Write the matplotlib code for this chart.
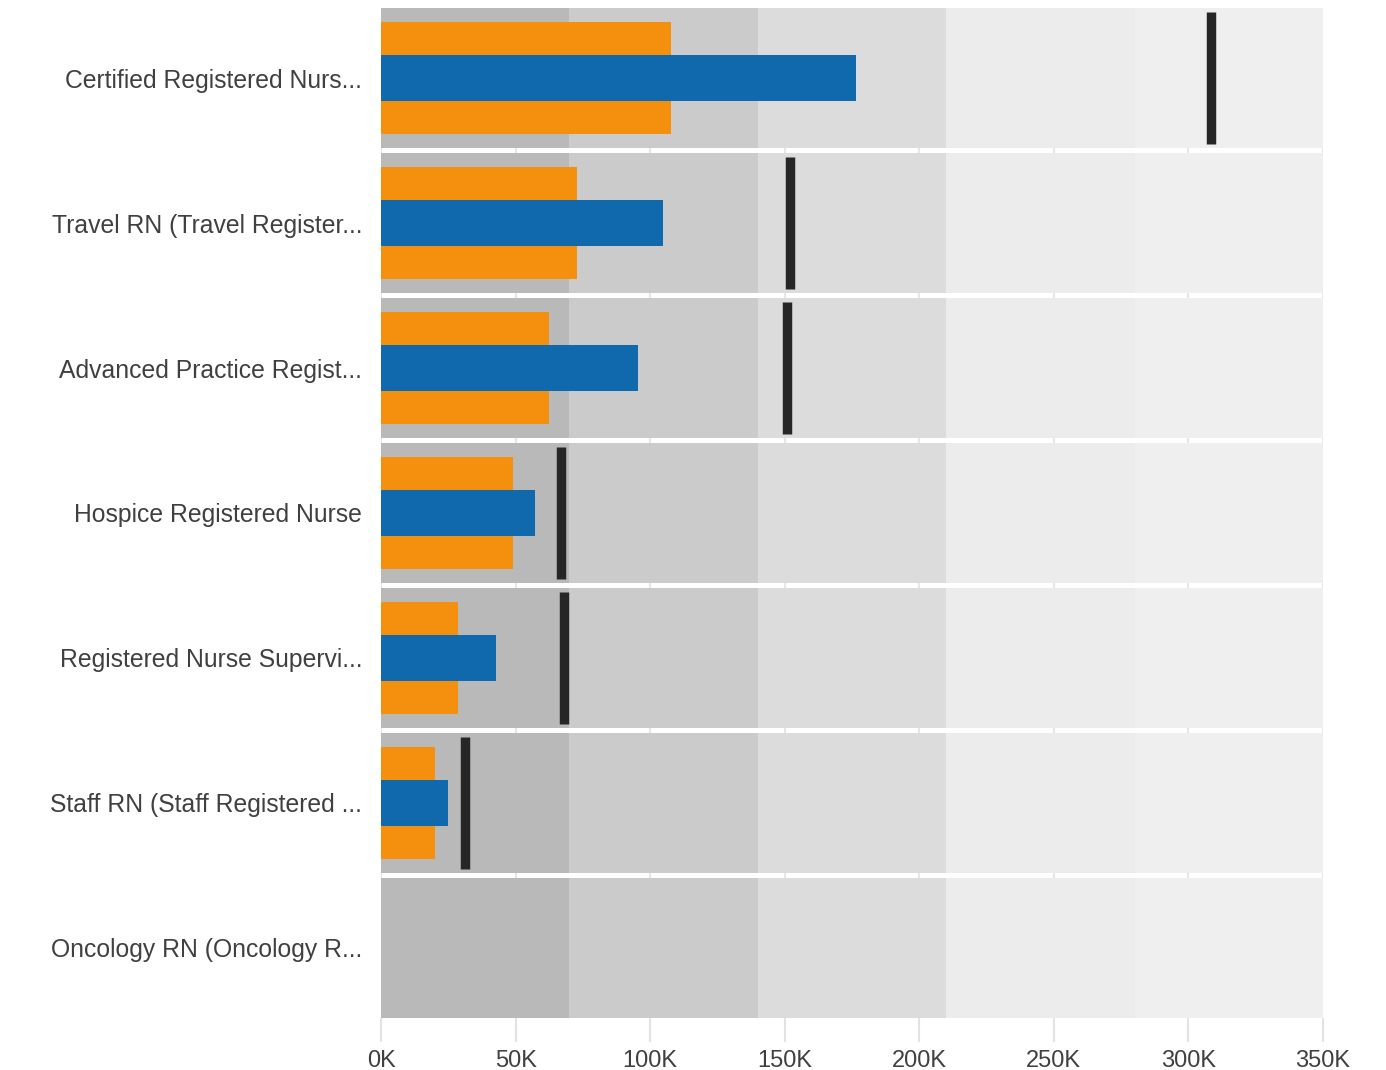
import matplotlib
matplotlib.use("Agg")
import matplotlib.pyplot as plt
from matplotlib.patches import Rectangle

plt.rcParams['font.family'] = ['Liberation Sans', 'DejaVu Sans']

# Job titles (truncated as displayed)
categories = [
    "Certified Registered Nurs...",
    "Travel RN (Travel Register...",
    "Advanced Practice Regist...",
    "Hospice Registered Nurse",
    "Registered Nurse Supervi...",
    "Staff RN (Staff Registered ...",
    "Oncology RN (Oncology R...",
]
# Salary figures in thousands
range_values = [107.7, 72.7, 62.5, 49.2, 28.7, 20.1, None]     # orange
actual_values = [176.5, 104.9, 95.5, 57.1, 42.7, 24.9, None]   # blue
target_values = [308.4, 152.1, 151.0, 66.7, 68.0, 31.1, None]  # marker
band_edges = [0, 70, 140, 210, 280, 350]
band_colors = ["#b9b9b9", "#cbcbcb", "#dcdcdc", "#ececec", "#efefef"]
tick_values = [0, 50, 100, 150, 200, 250, 300, 350]
tick_labels = ["0K", "50K", "100K", "150K", "200K", "250K", "300K", "350K"]

W, H = 1386, 1070
fig = plt.figure(figsize=(W / 100, H / 100), dpi=100)
ax = fig.add_axes([381 / W, (H - 1018) / H, (1323 - 381) / W, (1018 - 8) / H])
ax.set_facecolor("white")
n = len(categories)
half_gap = 0.0172
ax.set_xlim(0, 350)
ax.set_ylim(n - 0.5 - half_gap, -0.5 + half_gap)

# background quality bands, one block per row with a white gap between rows
for i in range(n):
    top = i - 0.5 + half_gap
    bot = i + 0.5 - half_gap
    for j, c in enumerate(band_colors):
        ax.add_patch(Rectangle((band_edges[j], top), band_edges[j + 1] - band_edges[j],
                               bot - top, facecolor=c, edgecolor="none", zorder=1))

for i in range(n):
    if range_values[i] is not None:
        ax.barh(i, range_values[i], height=0.766, color="#f5900f", zorder=2)
    if actual_values[i] is not None:
        ax.barh(i, actual_values[i], height=0.317, color="#1069ad", zorder=3)
    if target_values[i] is not None:
        ax.vlines(target_values[i], i - 0.452, i + 0.452, colors="#262626",
                  linewidth=6.8, zorder=4)

ax.set_xticks(tick_values)
ax.set_xticklabels(tick_labels)
ax.set_yticks(range(n))
ax.set_yticklabels(categories)
ax.xaxis.grid(True, color="#e6e6e6", linewidth=1.5, zorder=0)
ax.set_axisbelow(True)
ax.tick_params(axis="x", length=17.5, width=1.5, color="#e3e3e3", pad=5.5,
               labelsize=17, labelcolor="#404040")
ax.tick_params(axis="y", length=0, pad=13.5, labelsize=17.8, labelcolor="#404040")
for s in ax.spines.values():
    s.set_visible(False)

fig.savefig("out.png", dpi=100, facecolor="white")
